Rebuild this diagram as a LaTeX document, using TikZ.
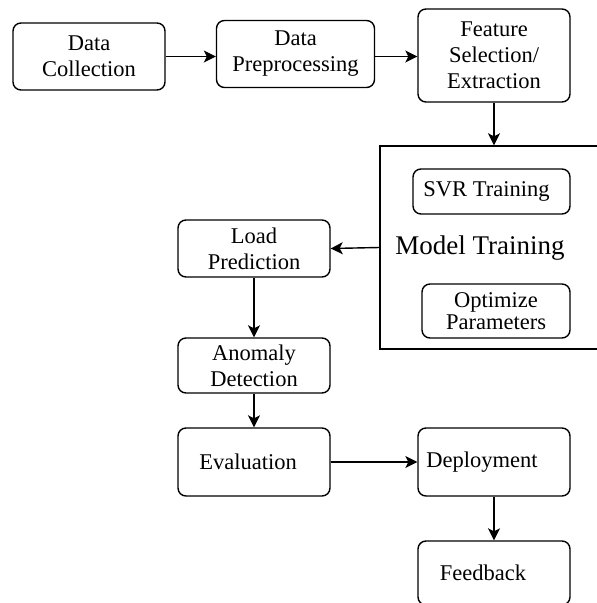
\documentclass[tikz,border=0pt]{standalone}
\usepackage{fontspec}
\setmainfont{LiberationSerif}[Extension=.ttf, UprightFont=*-Regular,
  BoldFont=*-Bold, ItalicFont=*-Italic, BoldItalicFont=*-BoldItalic]
\usetikzlibrary{arrows.meta}

\tikzset{
  stage/.style={draw, rounded corners=4pt, line width=0.7pt, align=center,
    inner sep=1pt, minimum width=76pt, font=\fontsize{11.25}{13}\selectfont},
  frame/.style={draw, line width=0.7pt},
  flow/.style={-{Stealth[length=6pt,width=6pt,inset=1.5pt]}, line width=0.7pt},
}

\begin{document}
\begin{tikzpicture}[x=0.5pt, y=-0.5pt]
  \useasboundingbox (0,0) rectangle (597,603);

  %%%%% top row %%%%%
  \node[stage, minimum height=33.5pt] (collect) at (89,56.5) {Data\\Collection};
  \node[stage, minimum width=79pt, minimum height=33.5pt] (prep) at (295.5,54) {Data\\Preprocessing};
  \node[stage, minimum height=46.5pt] (feat) at (494,55.5) {Feature\\Selection/\\Extraction};

  %%%%% training block %%%%%
  \node[frame, minimum width=120pt, minimum height=101.5pt] (train) at (500,247.5) {};
  \node[font=\fontsize{13.5}{15}\selectfont] (trainlbl) at (480,248) {Model Training};
  \node[stage, minimum width=78.5pt, minimum height=22.5pt] (svr) at (491.5,191.5) {SVR Training\hspace*{5pt}};
  \node[stage, minimum width=74pt, minimum height=27pt,
        font=\fontsize{11.25}{11}\selectfont] (optim) at (496,311) {Optimize\\Parameters};

  %%%%% left column %%%%%
  \node[stage, minimum height=28.5pt] (load) at (254,248.5) {Load\\Prediction};
  \node[stage, minimum height=27.5pt] (anomaly) at (254,365.5) {Anomaly\\Detection};
  \node[stage, minimum height=34pt] (eval) at (254,462) {Evaluation\hspace*{6pt}};

  %%%%% right column %%%%%
  \node[stage, minimum height=34pt] (deploy) at (494,462) {Deployment\hspace*{12pt}};
  \node[stage, minimum height=32pt] (feedback) at (494,573) {Feedback\hspace*{11pt}};

  %%%%% connectors %%%%%
  \draw[flow] (collect.east) -- (prep.west |- collect.east);
  \draw[flow] (prep.east |- collect.east) -- (feat.west |- collect.east);
  \draw[flow] (feat.south) -- (train.north -| feat.south);
  \draw[flow] (train.west) -- (load.east);
  \draw[flow] (load) -- (anomaly);
  \draw[flow] (anomaly) -- (eval);
  \draw[flow] (eval) -- (deploy);
  \draw[flow] (deploy) -- (feedback);
\end{tikzpicture}
\end{document}
